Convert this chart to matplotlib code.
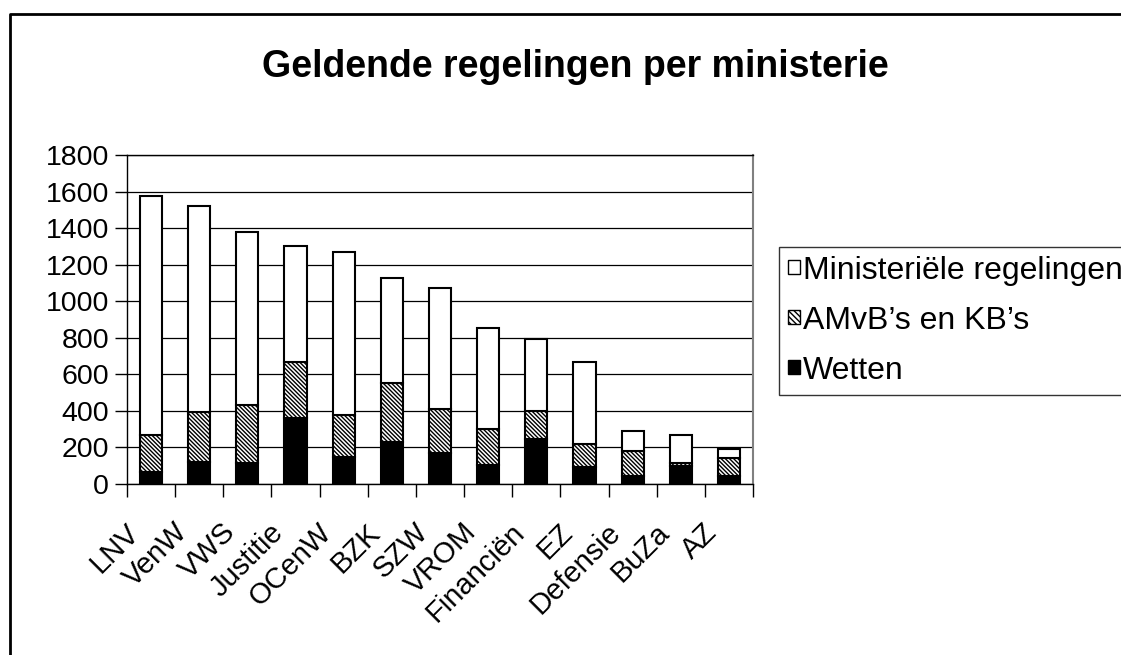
import matplotlib
matplotlib.use("Agg")
import matplotlib.pyplot as plt
import numpy as np
from matplotlib.patches import Patch
from matplotlib.lines import Line2D
from matplotlib.transforms import ScaledTranslation

plt.rcParams['font.family'] = ['Liberation Sans', 'DejaVu Sans']
plt.rcParams['hatch.linewidth'] = 1.0

categories = ["LNV", "VenW", "VWS", "Justitie", "OCenW", "BZK", "SZW", "VROM",
              "Financiën", "EZ", "Defensie", "BuZa", "AZ"]
wetten = [67, 122, 113, 362, 146, 228, 170, 106, 246, 91, 45, 96, 42]
amvb = [199, 274, 320, 303, 234, 322, 239, 197, 151, 126, 134, 19, 98]
ministerieel = [1307, 1126, 948, 638, 888, 575, 664, 552, 396, 448, 113, 155, 52]
yticks = [0, 200, 400, 600, 800, 1000, 1200, 1400, 1600, 1800]
series_labels = ["Ministeriële regelingen", "AMvB\u2019s en KB\u2019s", "Wetten"]
title = "Geldende regelingen per ministerie"

W, H = 1121, 655
fig = plt.figure(figsize=(W / 100, H / 100), dpi=100)
ax = fig.add_axes([127 / W, 1 - 484 / H, (753 - 127) / W, (484 - 155) / H])

x = np.arange(len(categories))
bw = 0.46
w = np.array(wetten)
a = np.array(amvb)
m = np.array(ministerieel)
ax.bar(x, w, bw, color='black', edgecolor='black', linewidth=1.5, zorder=3)
ax.bar(x, a, bw, bottom=w, color='white', edgecolor='black', hatch='\\' * 8, linewidth=1.5, zorder=3)
ax.bar(x, m, bw, bottom=w + a, color='white', edgecolor='black', linewidth=1.5, zorder=3)

ax.set_xlim(-0.5, len(categories) - 0.5)
ax.set_ylim(0, 1800)
ax.set_yticks(yticks)
ax.set_yticklabels([str(v) for v in yticks], fontsize=20.5)
ax.yaxis.grid(True, color='black', linewidth=0.9, zorder=0)
ax.set_axisbelow(True)
ax.tick_params(axis='y', direction='out', length=9, width=1, pad=4)

ax.set_xticks(x)
ax.set_xticklabels(categories, fontsize=21, rotation=45, ha='right', va='top',
                   rotation_mode='anchor')
ax.tick_params(axis='x', which='major', length=0, pad=34 / 1.389)
for lab in ax.get_xticklabels():
    lab.set_transform(lab.get_transform() + ScaledTranslation(-26 / 100, 0, fig.dpi_scale_trans))
ax.set_xticks(np.arange(-0.5, len(categories), 1.0), minor=True)
ax.tick_params(axis='x', which='minor', direction='out', length=9, width=1)

for s in ['left', 'bottom', 'top']:
    ax.spines[s].set_color('black')
    ax.spines[s].set_linewidth(1)
ax.spines['right'].set_color('#808080')
ax.spines['right'].set_linewidth(1.5)

fig.text(575 / W, 1 - 76.7 / H, title, fontsize=27, fontweight='bold',
         ha='center', va='baseline')

handles = [Patch(facecolor='white', edgecolor='black', linewidth=1.0),
           Patch(facecolor='white', edgecolor='black', hatch='\\' * 6, linewidth=1.0),
           Patch(facecolor='black', edgecolor='black', linewidth=1.0)]
leg = fig.legend(handles, series_labels, loc='upper left',
                 bbox_to_anchor=(779 / W, 1 - 247 / H), fontsize=23,
                 frameon=True, fancybox=False, edgecolor='black',
                 handlelength=0.38, handleheight=0.3, handletextpad=0.1,
                 labelspacing=0.62, borderpad=0.28, borderaxespad=0)
leg.get_frame().set_linewidth(1.0)

# figure frame (left and top visible)
fig.add_artist(Line2D([9.7 / W, 9.7 / W, 1.0], [0, 1 - 13.7 / H, 1 - 13.7 / H],
                      transform=fig.transFigure, color='black', linewidth=2.0))

fig.savefig("out.png", dpi=100, facecolor='white')
